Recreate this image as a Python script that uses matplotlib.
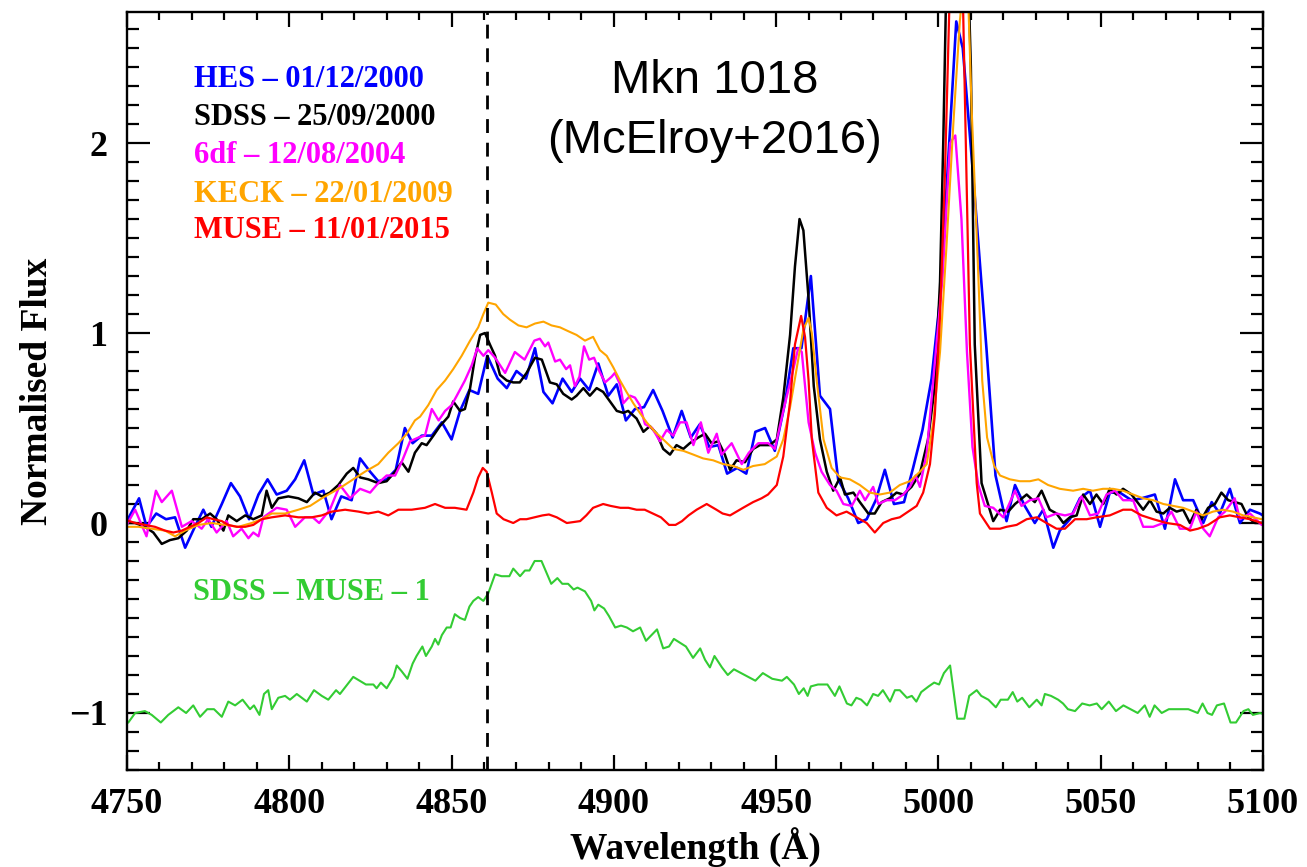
import matplotlib
matplotlib.use('Agg')
import matplotlib.pyplot as plt
from matplotlib.ticker import MultipleLocator

plt.rcParams['font.family'] = ['Liberation Serif', 'DejaVu Serif']
plt.rcParams['font.weight'] = 'bold'
plt.rcParams['axes.unicode_minus'] = True

# spectra (wavelength in A, normalised flux)
hes_wave = [4749.0, 4753.7, 4756.0, 4759.0, 4762.0, 4764.8, 4767.9, 4770.9, 4773.5, 4776.0,
            4779.2, 4782.0, 4784.8, 4787.6, 4790.5, 4793.3, 4796.1, 4799.2, 4801.8, 4804.6,
            4807.4, 4810.5, 4813.0, 4816.0, 4819.2, 4821.8, 4824.9, 4827.4, 4830.0, 4832.8,
            4835.6, 4838.0, 4840.8, 4843.9, 4847.0, 4850.0, 4852.6, 4855.5, 4858.2, 4861.0,
            4864.2, 4867.0, 4870.0, 4872.9, 4875.7, 4878.3, 4881.1, 4884.2, 4887.0, 4889.6,
            4892.4, 4895.2, 4898.3, 4900.9, 4903.7, 4906.5, 4909.3, 4912.1, 4915.0, 4918.1,
            4920.9, 4923.7, 4926.5, 4929.4, 4932.2, 4934.9, 4938.0, 4940.8, 4943.6, 4946.6,
            4949.6, 4952.7, 4955.3, 4957.8, 4960.7, 4963.5, 4966.6, 4969.1, 4972.2, 4975.3,
            4977.9, 4980.7, 4983.5, 4986.3, 4989.4, 4992.2, 4995.1, 4997.9, 5000.5, 5003.5,
            5005.5, 5007.5, 5010.7, 5014.8, 5017.6, 5020.0, 5021.0, 5023.6, 5026.6, 5029.7,
            5032.3, 5035.4, 5037.4, 5040.5, 5043.6, 5046.7, 5049.8, 5052.8, 5055.9, 5059.5,
            5062.6, 5066.7, 5069.8, 5072.9, 5075.4, 5078.5, 5081.6, 5084.2, 5086.7, 5089.8,
            5092.9, 5096.0, 5099.0, 5101.0]
hes_flux = [-0.02, 0.13, -0.02, 0.05, 0.02, 0.03, -0.13, -0.02, 0.07, -0.02,
            0.10, 0.21, 0.14, 0.02, 0.15, 0.23, 0.15, 0.17, 0.23, 0.33,
            0.15, 0.17, 0.02, 0.14, 0.12, 0.34, 0.27, 0.22, 0.23, 0.28,
            0.50, 0.42, 0.46, 0.46, 0.53, 0.44, 0.59, 0.70, 0.68, 0.88,
            0.76, 0.71, 0.80, 0.76, 0.92, 0.69, 0.63, 0.76, 0.69, 0.76,
            0.70, 0.84, 0.67, 0.73, 0.54, 0.60, 0.61, 0.70, 0.59, 0.45,
            0.59, 0.45, 0.52, 0.40, 0.41, 0.26, 0.29, 0.26, 0.48, 0.50,
            0.38, 0.63, 0.92, 0.92, 1.30, 0.67, 0.60, 0.23, 0.13, 0.00,
            0.02, 0.12, 0.28, 0.10, 0.11, 0.29, 0.49, 0.76, 1.18, 2.05,
            2.64, 2.50, 1.83, 0.92, 0.25, 0.07, 0.01, 0.20, 0.09, 0.00,
            0.07, -0.13, -0.04, 0.02, 0.13, 0.17, -0.02, 0.16, 0.16, 0.12,
            0.13, 0.15, -0.03, 0.23, 0.12, 0.12, 0.00, 0.11, 0.05, 0.18,
            0.00, 0.07, 0.05, 0.03]

sdss_wave = [4749.0, 4752.5, 4755.5, 4758.1, 4760.7, 4763.2, 4765.8, 4768.4, 4770.4, 4773.0,
             4775.6, 4777.6, 4779.7, 4781.2, 4783.8, 4786.4, 4788.9, 4791.5, 4793.0, 4794.6,
             4796.6, 4799.7, 4802.8, 4805.4, 4807.9, 4810.0, 4812.5, 4815.1, 4817.7, 4819.7,
             4821.8, 4824.3, 4827.4, 4830.0, 4832.6, 4834.6, 4836.7, 4838.7, 4840.8, 4842.3,
             4844.4, 4846.4, 4849.0, 4850.5, 4852.6, 4854.1, 4855.7, 4857.2, 4858.8, 4860.3,
             4861.8, 4863.4, 4864.9, 4867.0, 4869.0, 4871.0, 4873.1, 4875.7, 4877.8, 4880.3,
             4882.4, 4884.4, 4887.0, 4888.5, 4890.6, 4892.6, 4894.7, 4896.7, 4898.8, 4900.9,
             4902.9, 4904.4, 4907.0, 4909.1, 4911.1, 4913.2, 4915.2, 4917.3, 4919.3, 4921.4,
             4923.4, 4926.0, 4928.1, 4930.1, 4932.2, 4934.2, 4935.8, 4937.8, 4940.4, 4942.9,
             4945.0, 4948.0, 4950.2, 4952.2, 4954.3, 4955.8, 4957.2, 4958.4, 4960.0, 4961.6,
             4963.5, 4965.6, 4967.6, 4969.7, 4971.2, 4973.8, 4975.8, 4978.4, 4980.4, 4982.5,
             4985.0, 4987.1, 4989.2, 4991.7, 4994.3, 4996.8, 4998.9, 5000.5, 5001.5, 5002.5,
             5004.5, 5006.5, 5008.5, 5010.0, 5011.2, 5013.3, 5016.9, 5019.0, 5021.5, 5023.6,
             5027.2, 5029.7, 5031.8, 5034.3, 5036.4, 5038.5, 5040.5, 5042.6, 5044.6, 5046.7,
             5048.7, 5050.8, 5052.8, 5054.9, 5056.9, 5059.5, 5063.1, 5065.2, 5067.2, 5069.3,
             5071.3, 5073.4, 5075.4, 5077.5, 5079.5, 5081.1, 5083.1, 5085.2, 5087.2, 5089.3,
             5091.3, 5093.4, 5095.4, 5097.5, 5099.6, 5101.0]
sdss_flux = [0.00, 0.00, -0.02, -0.05, -0.11, -0.09, -0.08, -0.04, 0.02, 0.02,
             0.05, 0.02, -0.04, 0.04, 0.01, 0.04, 0.02, 0.04, 0.17, 0.08,
             0.13, 0.14, 0.13, 0.11, 0.16, 0.14, 0.16, 0.20, 0.26, 0.29,
             0.24, 0.23, 0.21, 0.22, 0.27, 0.32, 0.27, 0.37, 0.42, 0.41,
             0.46, 0.51, 0.56, 0.64, 0.59, 0.60, 0.71, 0.87, 0.99, 1.00,
             0.94, 0.88, 0.78, 0.75, 0.74, 0.74, 0.79, 0.87, 0.86, 0.74,
             0.73, 0.68, 0.65, 0.67, 0.71, 0.67, 0.71, 0.69, 0.64, 0.59,
             0.58, 0.59, 0.55, 0.48, 0.51, 0.47, 0.39, 0.36, 0.41, 0.39,
             0.42, 0.45, 0.47, 0.42, 0.43, 0.36, 0.28, 0.33, 0.32, 0.39,
             0.41, 0.41, 0.44, 0.66, 0.99, 1.35, 1.60, 1.54, 1.18, 0.72,
             0.44, 0.27, 0.17, 0.24, 0.15, 0.16, 0.11, 0.05, 0.05, 0.11,
             0.13, 0.16, 0.15, 0.19, 0.26, 0.44, 0.72, 1.27, 2.01, 2.90,
             3.60, 3.80, 3.30, 2.40, 0.94, 0.21, 0.01, 0.07, 0.06, 0.10,
             0.15, 0.11, 0.17, 0.07, 0.05, 0.00, 0.03, 0.04, 0.15, 0.10,
             0.15, 0.10, 0.18, 0.15, 0.18, 0.15, 0.07, 0.12, 0.06, 0.05,
             0.08, 0.06, 0.07, 0.00, 0.07, 0.02, 0.08, 0.10, 0.16, 0.12,
             0.11, 0.10, 0.03, 0.00, 0.00, 0.01]

sixdf_wave = [4749.9, 4752.5, 4756.0, 4758.9, 4760.7, 4763.8, 4766.9, 4769.9, 4773.0, 4775.0,
              4777.6, 4780.7, 4782.7, 4785.3, 4787.4, 4788.9, 4790.5, 4792.0, 4796.1, 4799.2,
              4801.8, 4804.8, 4807.2, 4809.2, 4812.5, 4815.6, 4818.7, 4821.8, 4824.9, 4827.4,
              4830.0, 4832.6, 4834.6, 4837.2, 4839.8, 4841.8, 4843.9, 4846.0, 4848.0, 4850.0,
              4851.6, 4854.1, 4856.2, 4857.9, 4859.8, 4861.3, 4863.4, 4866.5, 4869.5, 4872.5,
              4875.5, 4877.2, 4878.8, 4879.8, 4881.9, 4883.4, 4885.3, 4886.5, 4888.0, 4889.4,
              4890.8, 4892.4, 4893.9, 4895.5, 4897.3, 4899.3, 4900.3, 4901.9, 4902.9, 4905.0,
              4906.5, 4908.0, 4909.6, 4911.8, 4914.2, 4916.3, 4918.3, 4920.4, 4922.4, 4924.5,
              4926.8, 4929.1, 4931.7, 4933.2, 4936.3, 4939.4, 4941.6, 4944.5, 4947.6, 4949.6,
              4952.2, 4955.3, 4956.8, 4957.9, 4960.0, 4962.0, 4964.0, 4966.6, 4968.6, 4970.7,
              4973.3, 4975.8, 4977.4, 4979.9, 4981.5, 4984.0, 4986.6, 4989.2, 4991.2, 4993.0,
              4994.3, 4996.4, 4998.4, 5001.3, 5003.6, 5005.2, 5007.1, 5008.8, 5010.5, 5012.3,
              5014.3, 5016.9, 5020.0, 5023.6, 5025.6, 5028.2, 5030.8, 5033.3, 5036.4, 5039.0,
              5041.5, 5044.1, 5046.7, 5049.2, 5051.8, 5054.4, 5056.9, 5060.0, 5063.1, 5066.2,
              5069.3, 5071.8, 5074.4, 5077.5, 5079.5, 5081.6, 5083.6, 5086.2, 5088.3, 5091.3,
              5092.9, 5096.0, 5099.6, 5101.0]
sixdf_flux = [-0.01, 0.07, -0.07, 0.17, 0.11, 0.17, -0.02, 0.01, -0.03, 0.02,
              -0.05, 0.01, -0.07, -0.03, -0.08, -0.05, -0.07, 0.03, 0.08, 0.07,
              -0.02, 0.03, 0.03, 0.00, 0.07, 0.20, 0.13, 0.18, 0.16, 0.21,
              0.25, 0.25, 0.32, 0.43, 0.45, 0.46, 0.60, 0.54, 0.59, 0.62,
              0.67, 0.75, 0.83, 0.92, 0.88, 0.91, 0.87, 0.79, 0.90, 0.86,
              0.96, 0.97, 0.93, 0.95, 0.85, 0.86, 0.81, 0.83, 0.72, 0.77,
              0.93, 0.86, 0.87, 0.80, 0.74, 0.77, 0.79, 0.73, 0.63, 0.67,
              0.66, 0.62, 0.52, 0.50, 0.43, 0.49, 0.46, 0.53, 0.53, 0.41,
              0.53, 0.37, 0.47, 0.36, 0.42, 0.31, 0.37, 0.42, 0.42, 0.39,
              0.59, 0.81, 0.92, 0.90, 0.53, 0.37, 0.27, 0.20, 0.17, 0.10,
              0.09, 0.17, 0.12, 0.19, 0.10, 0.12, 0.12, 0.15, 0.19, 0.25,
              0.19, 0.37, 0.75, 1.30, 2.00, 2.04, 1.60, 0.90, 0.40, 0.20,
              0.09, 0.08, 0.03, 0.17, 0.09, 0.12, 0.13, 0.03, 0.05, 0.04,
              0.05, 0.14, 0.04, 0.05, 0.15, 0.17, 0.12, 0.12, -0.02, -0.02,
              0.00, 0.06, -0.03, -0.03, 0.06, -0.03, -0.07, 0.03, 0.06, 0.13,
              0.02, 0.05, -0.01, 0.00]

keck_wave = [4749.0, 4753.5, 4757.6, 4761.7, 4764.8, 4767.9, 4772.0, 4776.1, 4780.2, 4784.3,
             4788.4, 4791.5, 4794.6, 4798.7, 4802.8, 4806.4, 4810.0, 4813.1, 4816.1, 4819.7,
             4823.3, 4827.4, 4830.5, 4833.6, 4836.2, 4838.7, 4840.3, 4842.8, 4845.4, 4848.0,
             4850.5, 4853.1, 4855.7, 4858.2, 4859.8, 4861.3, 4863.6, 4865.9, 4868.0, 4870.6,
             4873.1, 4875.7, 4878.3, 4880.8, 4883.4, 4885.9, 4888.5, 4891.1, 4893.6, 4895.7,
             4897.8, 4899.8, 4901.9, 4903.9, 4906.0, 4908.0, 4910.1, 4912.7, 4915.2, 4918.3,
             4921.4, 4924.5, 4927.5, 4930.6, 4933.7, 4936.8, 4939.9, 4942.9, 4946.5, 4950.2,
             4952.2, 4954.3, 4956.3, 4958.4, 4960.0, 4961.0, 4962.5, 4964.6, 4967.1, 4969.7,
             4972.7, 4975.8, 4978.9, 4981.9, 4985.0, 4988.1, 4991.2, 4994.3, 4996.4, 4998.4,
             5000.5, 5002.5, 5004.6, 5006.6, 5008.0, 5009.2, 5010.2, 5012.3, 5013.5, 5015.0,
             5017.2, 5019.0, 5022.0, 5025.1, 5028.2, 5030.8, 5033.8, 5037.4, 5041.5, 5044.6,
             5047.6, 5050.7, 5053.8, 5056.9, 5060.0, 5063.1, 5066.2, 5069.3, 5072.3, 5075.4,
             5078.5, 5081.6, 5084.6, 5087.7, 5090.8, 5093.9, 5096.9, 5099.6, 5101.0]
keck_flux = [-0.02, -0.02, -0.03, -0.04, -0.07, -0.04, -0.01, 0.00, -0.01, -0.02,
             0.00, 0.02, 0.05, 0.05, 0.07, 0.09, 0.13, 0.16, 0.19, 0.23,
             0.27, 0.31, 0.37, 0.42, 0.47, 0.54, 0.56, 0.62, 0.70, 0.75,
             0.81, 0.88, 0.96, 1.03, 1.10, 1.16, 1.15, 1.10, 1.07, 1.04,
             1.03, 1.05, 1.06, 1.04, 1.03, 1.01, 0.99, 0.96, 0.98, 0.91,
             0.88, 0.82, 0.75, 0.69, 0.63, 0.58, 0.53, 0.48, 0.44, 0.39,
             0.38, 0.36, 0.34, 0.33, 0.31, 0.30, 0.28, 0.30, 0.31, 0.35,
             0.44, 0.61, 0.81, 1.02, 1.08, 1.00, 0.75, 0.44, 0.29, 0.24,
             0.23, 0.20, 0.16, 0.15, 0.16, 0.20, 0.22, 0.27, 0.31, 0.53,
             0.90, 1.46, 2.10, 2.64, 2.90, 2.75, 2.20, 1.30, 0.75, 0.45,
             0.30, 0.25, 0.23, 0.22, 0.22, 0.23, 0.20, 0.18, 0.17, 0.18,
             0.17, 0.18, 0.18, 0.17, 0.15, 0.13, 0.12, 0.10, 0.09, 0.08,
             0.06, 0.04, 0.06, 0.07, 0.06, 0.04, 0.03, 0.02, 0.02]

muse_wave = [4749.0, 4752.5, 4755.5, 4758.6, 4761.7, 4764.3, 4766.9, 4769.4, 4772.0, 4774.6,
             4776.6, 4779.2, 4781.2, 4783.8, 4786.4, 4788.9, 4791.5, 4794.6, 4798.7, 4802.8,
             4806.9, 4810.0, 4813.1, 4817.2, 4821.3, 4824.3, 4827.4, 4830.5, 4833.6, 4837.7,
             4841.8, 4844.9, 4848.0, 4851.0, 4854.6, 4856.7, 4858.2, 4859.6, 4860.8, 4862.4,
             4863.9, 4866.0, 4869.0, 4871.1, 4873.1, 4875.5, 4878.0, 4880.0, 4882.4, 4885.5,
             4889.6, 4891.5, 4893.6, 4896.7, 4899.0, 4902.0, 4904.5, 4907.0, 4909.5, 4912.0,
             4914.5, 4917.0, 4919.0, 4921.0, 4923.0, 4925.5, 4928.6, 4931.6, 4933.5, 4935.8,
             4937.8, 4939.8, 4942.9, 4945.5, 4947.5, 4950.2, 4952.2, 4954.3, 4955.8, 4957.7,
             4958.9, 4960.0, 4961.0, 4963.0, 4965.6, 4968.6, 4971.7, 4974.8, 4977.9, 4980.4,
             4983.0, 4985.6, 4988.1, 4990.7, 4993.3, 4995.3, 4997.4, 4998.9, 5000.5, 5002.0,
             5003.5, 5004.5, 5005.5, 5006.5, 5007.5, 5009.7, 5011.8, 5012.8, 5015.9, 5019.0,
             5021.0, 5024.1, 5027.2, 5030.3, 5033.3, 5036.4, 5039.0, 5042.1, 5045.7, 5048.7,
             5052.8, 5056.9, 5059.5, 5062.6, 5066.2, 5070.3, 5074.4, 5077.5, 5080.0, 5083.1,
             5086.7, 5089.8, 5092.9, 5096.0, 5099.6, 5101.0]
muse_flux = [0.02, 0.00, -0.01, -0.02, -0.04, -0.05, -0.04, -0.02, 0.00, 0.03,
             0.02, 0.01, -0.01, -0.02, -0.02, -0.01, 0.02, 0.03, 0.04, 0.03,
             0.03, 0.04, 0.06, 0.07, 0.06, 0.05, 0.06, 0.04, 0.07, 0.07,
             0.08, 0.10, 0.08, 0.08, 0.07, 0.16, 0.24, 0.29, 0.27, 0.16,
             0.05, 0.02, 0.00, 0.02, 0.02, 0.03, 0.04, 0.045, 0.03, 0.00,
             0.01, 0.04, 0.08, 0.10, 0.09, 0.08, 0.08, 0.07, 0.07, 0.05,
             0.03, -0.01, -0.01, 0.01, 0.04, 0.07, 0.10, 0.07, 0.05, 0.04,
             0.06, 0.08, 0.11, 0.13, 0.15, 0.20, 0.35, 0.64, 0.94, 1.09,
             0.98, 0.75, 0.44, 0.16, 0.08, 0.04, 0.06, 0.03, 0.00, -0.05,
             0.00, 0.02, 0.03, 0.06, 0.09, 0.16, 0.31, 0.57, 1.09, 1.83,
             2.80, 4.00, 4.80, 4.00, 2.80, 0.94, 0.21, 0.05, -0.03, -0.03,
             -0.02, -0.01, 0.02, 0.03, 0.00, -0.03, -0.03, 0.02, 0.02, 0.03,
             0.04, 0.07, 0.07, 0.04, 0.02, 0.00, -0.01, -0.04, -0.03, -0.01,
             0.03, 0.04, 0.03, 0.02, 0.00, 0.00]

diff_wave = [4749.0, 4750.4, 4752.5, 4755.5, 4757.6, 4760.4, 4762.7, 4765.8, 4768.2, 4770.4,
             4772.5, 4774.7, 4776.8, 4779.2, 4781.2, 4783.3, 4785.6, 4787.9, 4789.1, 4790.8,
             4792.2, 4793.5, 4794.6, 4796.6, 4798.7, 4800.2, 4802.3, 4805.4, 4807.6, 4810.0,
             4812.0, 4814.4, 4815.6, 4819.7, 4823.6, 4825.9, 4826.9, 4828.2, 4830.0, 4832.1,
             4833.1, 4834.6, 4836.4, 4838.0, 4839.2, 4841.0, 4842.1, 4843.9, 4844.9, 4845.9,
             4847.0, 4848.5, 4849.7, 4851.0, 4852.6, 4854.1, 4855.5, 4856.7, 4858.2, 4859.8,
             4861.3, 4863.4, 4865.4, 4867.8, 4869.0, 4871.1, 4872.6, 4874.0, 4875.6, 4877.7,
             4879.2, 4880.7, 4882.6, 4884.1, 4885.9, 4887.6, 4888.8, 4891.1, 4893.0, 4894.0,
             4895.2, 4897.0, 4898.5, 4900.4, 4902.2, 4904.0, 4905.9, 4908.1, 4909.9, 4913.3,
             4915.2, 4917.0, 4918.5, 4922.2, 4924.4, 4926.6, 4928.1, 4929.6, 4931.0, 4933.3,
             4935.1, 4937.0, 4939.2, 4941.4, 4943.6, 4945.9, 4948.8, 4951.8, 4953.3, 4955.5,
             4957.0, 4958.5, 4959.7, 4960.7, 4962.9, 4965.8, 4968.1, 4969.5, 4971.8, 4973.2,
             4974.7, 4976.2, 4978.0, 4979.9, 4981.4, 4982.9, 4985.1, 4986.6, 4988.1, 4990.3,
             4991.8, 4993.2, 4994.7, 4997.0, 4998.7, 5000.2, 5001.7, 5003.6, 5005.8, 5008.0,
             5009.5, 5011.8, 5013.2, 5015.4, 5017.7, 5019.2, 5021.4, 5022.9, 5024.3, 5025.8,
             5028.0, 5030.3, 5031.8, 5032.8, 5034.7, 5036.9, 5038.4, 5039.9, 5042.1, 5044.3,
             5046.6, 5048.8, 5050.3, 5052.5, 5054.7, 5057.0, 5059.2, 5061.4, 5063.6, 5065.1,
             5066.6, 5068.8, 5071.0, 5074.0, 5077.0, 5079.9, 5081.4, 5082.9, 5084.3, 5085.8,
             5088.0, 5090.0, 5091.7, 5094.0, 5095.5, 5096.9, 5099.1, 5101.0]
diff_flux = [-1.06, -1.05, -1.00, -0.99, -1.01, -1.05, -1.01, -0.97, -1.00, -0.96,
             -1.02, -0.98, -0.98, -1.02, -0.94, -0.96, -0.93, -0.98, -0.96, -1.01,
             -0.90, -0.88, -0.98, -0.92, -0.91, -0.93, -0.90, -0.94, -0.88, -0.91,
             -0.93, -0.88, -0.90, -0.81, -0.85, -0.85, -0.87, -0.84, -0.87, -0.81,
             -0.75, -0.78, -0.82, -0.74, -0.70, -0.65, -0.70, -0.65, -0.61, -0.64,
             -0.59, -0.55, -0.55, -0.48, -0.50, -0.51, -0.44, -0.41, -0.39, -0.41,
             -0.37, -0.27, -0.28, -0.28, -0.24, -0.28, -0.25, -0.25, -0.20, -0.20,
             -0.26, -0.32, -0.29, -0.32, -0.32, -0.35, -0.34, -0.36, -0.41, -0.46,
             -0.43, -0.45, -0.49, -0.55, -0.54, -0.55, -0.57, -0.55, -0.62, -0.56,
             -0.66, -0.65, -0.61, -0.65, -0.71, -0.66, -0.72, -0.76, -0.70, -0.76,
             -0.80, -0.77, -0.79, -0.81, -0.83, -0.79, -0.82, -0.83, -0.81, -0.85,
             -0.90, -0.87, -0.91, -0.86, -0.85, -0.85, -0.91, -0.86, -0.95, -0.96,
             -0.92, -0.93, -0.96, -0.90, -0.91, -0.88, -0.94, -0.88, -0.88, -0.92,
             -0.91, -0.94, -0.89, -0.86, -0.84, -0.85, -0.79, -0.75, -1.03, -1.03,
             -0.91, -0.88, -0.91, -0.93, -0.97, -0.93, -0.93, -0.89, -0.94, -0.92,
             -0.97, -0.93, -0.96, -0.90, -0.91, -0.93, -0.95, -0.98, -0.99, -0.95,
             -0.96, -0.95, -0.98, -0.94, -0.99, -0.96, -0.98, -1.00, -0.96, -1.02,
             -0.96, -1.00, -0.98, -0.98, -0.98, -1.00, -0.95, -1.00, -1.01, -0.96,
             -0.95, -1.05, -1.05, -0.99, -0.98, -1.01, -1.00, -1.01]

labels = ['HES \u2013 01/12/2000', 'SDSS \u2013 25/09/2000', '6df \u2013 12/08/2004',
          'KECK \u2013 22/01/2009', 'MUSE \u2013 11/01/2015']
colors = ['#0000ff', '#000000', '#ff00ff', '#ffa500', '#ff0000']
diff_label = 'SDSS \u2013 MUSE \u2013 1'
diff_color = '#33cc33'
hbeta = 4861.0

fig = plt.figure(figsize=(13.07, 8.67), dpi=100)
ax = fig.add_axes([0.0972, 0.1119, 0.8691, 0.8743])

spectra = [(hes_wave, hes_flux, 1.9), (sdss_wave, sdss_flux, 1.8), (sixdf_wave, sixdf_flux, 1.7),
           (keck_wave, keck_flux, 1.5), (muse_wave, muse_flux, 1.6)]
for (w, f, lw), c in zip(spectra, colors):
    ax.plot(w, f, color=c, lw=lw)
ax.plot(diff_wave, diff_flux, color=diff_color, lw=1.5)

ax.axvline(hbeta, color='k', lw=2, dashes=(5, 3.5))

ax.set_xlim(4750, 5100)
ax.set_ylim(-1.3, 2.69)

ax.xaxis.set_major_locator(MultipleLocator(50))
ax.xaxis.set_minor_locator(MultipleLocator(10))
ax.yaxis.set_major_locator(MultipleLocator(1))
ax.yaxis.set_minor_locator(MultipleLocator(0.1))
ax.tick_params(which='both', direction='in', top=True, right=True, width=1.6, labelsize=26)
ax.tick_params(axis='x', which='major', length=10.8, pad=13)
ax.tick_params(axis='x', which='minor', length=5.8)
ax.tick_params(axis='y', which='major', length=16.5, pad=14)
ax.tick_params(axis='y', which='minor', length=8.6)
for s in ax.spines.values():
    s.set_linewidth(1.7)

ax.set_xlabel('Wavelength (\u00c5)', fontsize=27, fontweight='bold', labelpad=4)
ax.set_ylabel('Normalised Flux', fontsize=27, fontweight='bold', labelpad=10)

# legend written as coloured text
ys = [2.295, 2.095, 1.895, 1.69, 1.5]
for lab, c, y in zip(labels, colors, ys):
    ax.text(4770.6, y, lab, color=c, fontsize=22, fontweight='bold', va='baseline', ha='left')
ax.text(4770.3, -0.405, diff_label, color=diff_color, fontsize=22, fontweight='bold',
        va='baseline', ha='left')

ax.text(4931.0, 2.263, 'Mkn 1018', fontsize=34, family='Liberation Sans', fontweight='normal',
        ha='center', va='baseline')
ax.text(4931.0, 1.947, '(McElroy+2016)', fontsize=34, family='Liberation Sans',
        fontweight='normal', ha='center', va='baseline')

fig.savefig('out.png', dpi=100)
